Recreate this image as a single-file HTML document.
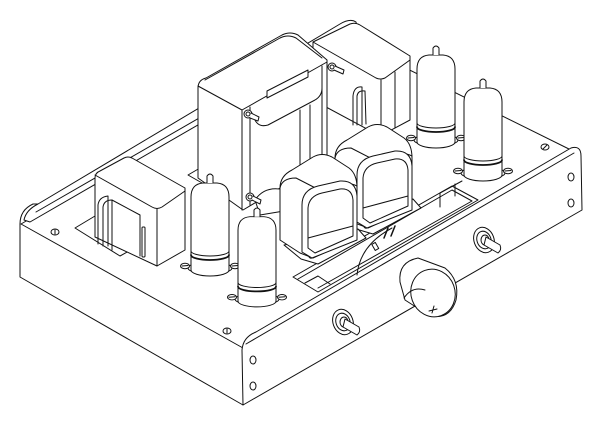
<!DOCTYPE html>
<html><head><meta charset="utf-8"><style>
html,body{margin:0;padding:0;background:#fff;}
svg{display:block;}
</style></head><body>
<svg width="600" height="422" viewBox="0 0 600 422" xmlns="http://www.w3.org/2000/svg" fill="#fff" stroke="#111" stroke-width="1" stroke-linejoin="round" stroke-linecap="round">
<defs>
  <g id="tube">
    <ellipse cx="0" cy="95" rx="22" ry="6"/>
    <ellipse cx="-25" cy="93" rx="4.5" ry="2.8"/><line x1="-28" y1="93" x2="-22" y2="92.5"/>
    <ellipse cx="25" cy="93" rx="4.5" ry="2.8"/><line x1="22" y1="93" x2="28" y2="92.5"/>
    <path d="M-19,97 L-19,24 Q-19,11 -7,10 L7,10 Q19,11 19,24 L19,97 A19,6 0 0 1 -19,97 Z"/>
    <path d="M-3,10 L-3,3 Q0,-1 3,3 L3,10" />
    <path d="M-19,78 A19,5 0 0 0 19,78" fill="none"/>
    <path d="M-19,82 A19,5 0 0 0 19,82" fill="none" stroke-width="1.8"/>
  </g>
  <g id="ot">
    <path d="M284,245 L301,259 L318,264 L366,238 L358,229 L350,233 Z"/>
    <circle cx="311" cy="256" r="2.2"/><circle cx="341" cy="240" r="2"/><circle cx="326" cy="249" r="1" fill="#111"/><circle cx="333" cy="245" r="1" fill="#111"/>
    <path d="M280,240 L280,188 Q280,176 292,170 L313,157 Q322,152 332,157 L349,168 Q357,174 357,188 L357,238 L313,258 L300,253 Z"/>
    <path d="M280,188 Q282,178 296,178 L331,196 M331,196 Q340,178 357,186" fill="none"/>
    <path d="M302,252 L302,205 Q302,190 318,186 L340,181 Q356,180 357,196 L357,240 L312,258 Z"/>
    <path d="M308,248 L308,208 Q309,196 322,193 L340,189 Q352,188 353,200 L353,236 L315,253 Z"/>
    <path d="M308,238 L353,226" fill="none"/>
  </g>
</defs>

<!-- left side panel -->
<path d="M243,405 L20,277 L20,224 Q20,210 33,204 L38,204 L243,340 Z"/>
<!-- top plate -->
<path d="M21,224 L243,348 L575,152 L345,38 Z"/>
<!-- back flange -->
<path d="M24,220 Q26,210 38,204 L340,24 Q350,18 356,22 L358,32 L345,40 L30,222 Z"/>
<line x1="36" y1="212" x2="345" y2="34"/>
<!-- right top plate edge area -->
<!-- front panel -->
<path d="M243,405 L242,350 Q243,337 256,332 L571,148 Q581,145 581,156 L582,210 Z"/>
<line x1="246" y1="344" x2="574" y2="153"/>
<!-- holes -->
<ellipse cx="55" cy="232" rx="4" ry="3"/><line x1="55" y1="230" x2="55" y2="234"/>
<ellipse cx="227" cy="331" rx="4" ry="3"/><line x1="227" y1="329" x2="227" y2="333"/>
<ellipse cx="545" cy="147" rx="4" ry="3"/><line x1="543" y1="149" x2="547" y2="145"/>
<ellipse cx="253" cy="360" rx="3" ry="4"/><ellipse cx="253" cy="386" rx="3" ry="4"/>
<ellipse cx="571" cy="177" rx="3" ry="4"/><ellipse cx="571" cy="203" rx="3" ry="4"/>

<!-- front cutout -->
<path d="M293,277 L452,186 L478,200 L318,292 Z"/>
<path d="M298,279 L452,190 L472,201 L318,288" fill="none"/>
<path d="M305,283 L318,276 L330,284" fill="none"/>
<path d="M440,207 L440,193 L462,181 M455,196 L455,184" fill="none"/>
<path d="M357,275 Q360,245 392,228" fill="none"/>
<rect x="373" y="243" width="4" height="7" transform="rotate(-30 375 246)"/>
<path d="M384,238 L388,228 M391,236 L395,226" fill="none" stroke-width="1.5"/>

<!-- rear transformer -->
<path d="M313,42 L350,24 Q355,22 360,25 L410,56 L410,120 L380,136 L313,100 Z"/>
<path d="M313,42 L376,78 Q380,80 385,78 L410,60" fill="none"/>
<line x1="381" y1="80" x2="381" y2="135"/>
<line x1="395" y1="72" x2="395" y2="128"/>
<path d="M353,125 L353,96 Q354,86 362,87 L362,125" fill="none"/>
<path d="M357,125 L357,96 Q358,90 365,91 L366,124" fill="none"/>

<!-- tubes back right -->
<use href="#tube" transform="translate(436,45)"/>
<use href="#tube" transform="translate(483,78)"/>

<!-- big power transformer -->
<path d="M188,175 L200,168 L245,192 L232,200 Z"/>
<path d="M198,178 L198,88 Q198,80 206,78 L282,35 Q290,31 298,35 L327,60 L327,160 L243,210 Z"/>
<path d="M198,86 L242,110 L327,62" fill="none"/>
<line x1="242" y1="110" x2="242" y2="210"/>
<line x1="250" y1="107" x2="250" y2="205"/>
<line x1="322" y1="66" x2="322" y2="160"/>
<path d="M205,80 L280,38 Q288,34 296,38 L322,58" fill="none"/>
<path d="M254,118 Q258,128 268,125 L315,100 Q322,96 322,88" fill="none"/>
<path d="M267,98 L267,91 L308,70 L308,77 Z"/>
<line x1="300" y1="110" x2="300" y2="170"/><line x1="310" y1="105" x2="310" y2="165"/>
<circle cx="248" cy="114" r="4"/><circle cx="248" cy="114" r="2"/>
<path d="M251,113 L259,117 L258,121 L250,118" />
<circle cx="332" cy="67" r="4"/><circle cx="332" cy="67" r="2"/>
<path d="M335,66 L344,70 L343,74 L334,70"/>
<path d="M255,200 Q265,185 285,190 L290,210 L260,215 Z"/>
<circle cx="250" cy="197" r="4"/><circle cx="250" cy="197" r="2"/>
<path d="M253,196 L261,200 L260,204 L252,200"/>

<!-- left transformer -->
<path d="M75,228 L95,216 L140,245 L120,256 Z"/>
<path d="M95,237 L95,178 Q95,173 100,171 L124,158 Q128,156 132,158 L185,188 L185,250 L157,266 Z"/>
<path d="M95,175 L152,207 Q157,210 162,207 L185,191" fill="none"/>
<line x1="157" y1="209" x2="157" y2="266"/>
<path d="M98,244 L98,205 Q99,197 108,196 L108,246" fill="none"/>
<path d="M103,246 L103,207 Q104,200 112,200 L140,215 L140,256" fill="none"/>
<path d="M112,200 L112,250" fill="none"/>
<rect x="142" y="227" width="3" height="30" rx="1"/>

<!-- front tubes -->
<use href="#tube" transform="translate(210,173)"/>

<!-- output transformers -->
<use href="#ot" transform="translate(55,-30)"/>
<use href="#ot"/>

<use href="#tube" transform="translate(257,207) scale(1,0.97)"/>

<!-- knob -->
<path d="M400,282 Q398,262 418,258 L445,268 Q460,280 456,300 Q450,320 430,316 L405,300 Z"/>
<ellipse cx="433" cy="293" rx="22" ry="24" transform="rotate(-20 433 293)"/>
<path d="M404,298 Q412,286 425,290" fill="none"/>
<path d="M432,313 L434,306 M429,311 L437,309" fill="none"/>

<!-- toggles -->
<g>
<ellipse cx="343" cy="322" rx="10" ry="13" transform="rotate(-20 343 322)"/>
<ellipse cx="343" cy="322" rx="7" ry="9" transform="rotate(-20 343 322)"/>
<ellipse cx="344" cy="322" rx="4" ry="5"/>
<path d="M345,319 L359,327 Q361,332 357,335 L343,327 Z"/>
</g>
<g>
<ellipse cx="484" cy="240" rx="10" ry="13" transform="rotate(-20 484 240)"/>
<ellipse cx="484" cy="240" rx="7" ry="9" transform="rotate(-20 484 240)"/>
<ellipse cx="485" cy="240" rx="4" ry="5"/>
<path d="M486,237 L500,245 Q502,250 498,253 L484,245 Z"/>
</g>
</svg>
</body></html>
